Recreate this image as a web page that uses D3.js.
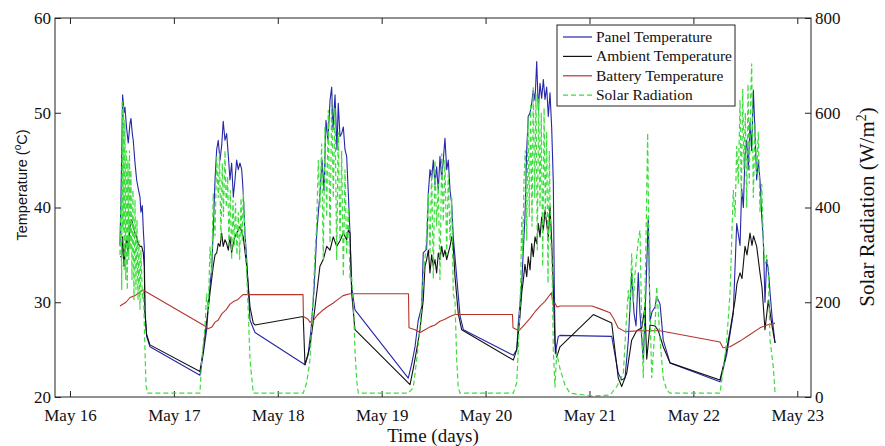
<!DOCTYPE html>
<html>
<head>
<meta charset="utf-8">
<script src="https://cdn.jsdelivr.net/npm/d3@7"></script>
<style>
  body { margin: 0; background: #fff; }
  text { font-family: "Liberation Serif", "Times New Roman", serif; fill: #111; }
</style>
</head>
<body>
<svg id="chart" width="885" height="446"></svg>
<script>
// [day of May, value] pairs
const panelTemp = [
  [16.481,36.0],[16.491,41.0],[16.507,51.9],[16.520,50.0],[16.529,50.6],[16.544,48.5],[16.561,46.8],
  [16.578,48.9],[16.587,49.4],[16.600,47.8],[16.609,47.1],[16.626,44.7],[16.642,42.9],[16.657,42.0],
  [16.674,41.1],[16.683,39.5],[16.696,40.2],[16.706,37.6],[16.715,35.9],[16.722,28.9],[16.738,26.4],
  [16.770,25.3],[17.251,22.3],[17.283,24.6],[17.316,27.1],[17.341,31.0],[17.364,33.5],[17.379,37.6],
  [17.396,42.9],[17.412,46.1],[17.427,47.1],[17.444,45.0],[17.460,46.5],[17.475,49.1],[17.492,47.1],
  [17.508,47.8],[17.524,45.5],[17.540,42.9],[17.556,44.7],[17.572,41.1],[17.588,42.9],[17.604,45.0],
  [17.620,44.0],[17.636,44.7],[17.653,44.0],[17.668,41.5],[17.684,37.3],[17.701,34.5],[17.733,28.1],
  [17.781,26.8],[18.262,23.4],[18.291,24.4],[18.320,27.1],[18.349,31.3],[18.377,37.6],[18.406,41.5],
  [18.426,45.0],[18.445,41.8],[18.464,49.2],[18.483,47.1],[18.503,51.3],[18.519,52.7],[18.531,48.2],
  [18.551,51.9],[18.570,46.1],[18.582,51.0],[18.599,47.5],[18.615,47.8],[18.631,48.5],[18.647,46.1],
  [18.663,45.4],[18.679,41.5],[18.695,37.3],[18.711,31.6],[18.743,29.2],[19.256,22.0],[19.289,23.5],
  [19.321,25.3],[19.352,28.1],[19.385,29.5],[19.400,35.2],[19.433,35.6],[19.449,41.5],[19.465,44.0],
  [19.481,43.0],[19.497,45.0],[19.513,42.4],[19.529,44.3],[19.545,41.8],[19.561,45.4],[19.578,43.0],
  [19.593,45.0],[19.609,47.3],[19.626,44.0],[19.641,45.0],[19.658,41.8],[19.674,40.4],[19.689,36.9],
  [19.722,32.7],[19.754,28.6],[19.786,27.1],[20.267,24.4],[20.300,25.0],[20.315,27.8],[20.348,32.0],
  [20.379,39.0],[20.396,46.1],[20.411,49.6],[20.428,50.0],[20.444,51.0],[20.459,52.4],[20.476,51.3],
  [20.492,55.4],[20.508,50.3],[20.524,53.1],[20.540,51.5],[20.556,53.5],[20.572,51.4],[20.588,52.7],
  [20.604,49.6],[20.620,52.1],[20.636,48.5],[20.652,42.6],[20.661,32.0],[20.671,24.6],[20.700,26.4],
  [20.716,26.5],[21.214,26.4],[21.277,22.5],[21.310,21.8],[21.342,22.0],[21.374,26.0],[21.406,33.1],
  [21.429,28.8],[21.448,27.5],[21.470,33.1],[21.486,28.8],[21.518,23.9],[21.544,31.5],[21.566,39.0],
  [21.583,28.0],[21.602,29.0],[21.631,29.5],[21.647,30.6],[21.679,29.8],[21.710,26.0],[21.775,23.6],
  [22.256,21.6],[22.321,24.5],[22.384,28.8],[22.417,38.3],[22.449,36.0],[22.465,42.0],[22.481,40.0],
  [22.497,45.5],[22.513,47.1],[22.529,44.0],[22.545,49.0],[22.561,46.0],[22.577,52.4],[22.593,48.0],
  [22.609,42.9],[22.625,45.0],[22.641,42.9],[22.658,39.0],[22.673,36.6],[22.689,30.0],[22.706,34.5],
  [22.721,33.5],[22.738,31.0],[22.757,28.5],[22.786,25.7]
];

const ambientTemp = [
  [16.481,34.8],[16.498,34.8],[16.507,36.9],[16.520,33.8],[16.529,35.5],[16.546,36.9],[16.561,35.2],
  [16.578,38.0],[16.594,38.7],[16.609,38.0],[16.626,37.3],[16.642,36.9],[16.657,36.2],[16.674,35.9],
  [16.690,35.9],[16.706,35.2],[16.715,33.8],[16.722,29.0],[16.738,26.6],[16.770,25.5],[17.251,22.7],
  [17.283,24.9],[17.316,28.0],[17.348,31.0],[17.379,33.8],[17.396,35.0],[17.412,35.2],[17.427,36.2],
  [17.444,35.9],[17.460,37.3],[17.475,35.9],[17.492,36.6],[17.508,36.2],[17.524,35.5],[17.540,36.9],
  [17.556,35.2],[17.572,36.2],[17.588,36.9],[17.604,37.3],[17.620,37.6],[17.636,38.0],[17.668,36.9],
  [17.701,33.8],[17.733,29.5],[17.764,27.8],[17.781,27.6],[18.245,28.5],[18.262,23.4],[18.310,25.3],
  [18.342,28.0],[18.374,30.9],[18.406,33.8],[18.438,34.5],[18.471,35.9],[18.503,35.5],[18.534,36.9],
  [18.567,35.9],[18.599,36.5],[18.631,37.3],[18.663,36.6],[18.679,37.6],[18.695,37.3],[18.711,31.0],
  [18.743,27.1],[19.273,21.3],[19.304,23.0],[19.337,25.0],[19.369,27.1],[19.385,28.8],[19.400,30.2],
  [19.417,33.8],[19.433,34.5],[19.449,35.5],[19.465,33.1],[19.481,35.0],[19.497,33.8],[19.513,34.5],
  [19.529,33.1],[19.545,35.2],[19.561,34.5],[19.578,35.9],[19.593,34.8],[19.609,35.5],[19.626,34.5],
  [19.641,35.2],[19.658,35.9],[19.674,36.9],[19.689,35.9],[19.706,32.7],[19.737,28.8],[19.770,27.1],
  [20.267,23.9],[20.300,25.0],[20.331,28.5],[20.348,31.0],[20.363,32.3],[20.379,34.0],[20.396,32.7],
  [20.411,34.8],[20.428,33.4],[20.444,36.2],[20.459,34.8],[20.476,36.9],[20.492,36.2],[20.508,38.3],
  [20.524,36.9],[20.540,39.0],[20.556,37.6],[20.572,39.7],[20.588,38.3],[20.604,36.9],[20.620,40.1],
  [20.636,36.6],[20.652,31.3],[20.668,25.7],[20.684,24.2],[20.716,25.3],[21.037,28.7],[21.214,27.8],
  [21.277,22.0],[21.310,21.1],[21.358,22.5],[21.406,26.0],[21.454,27.0],[21.503,27.3],[21.534,29.5],
  [21.551,24.0],[21.583,27.6],[21.631,27.5],[21.662,27.0],[21.710,25.3],[21.775,23.6],[22.256,21.8],
  [22.304,24.0],[22.353,27.0],[22.401,30.2],[22.420,32.0],[22.449,33.1],[22.468,32.5],[22.497,35.9],
  [22.516,35.0],[22.545,37.3],[22.564,36.0],[22.579,37.0],[22.609,35.9],[22.641,33.1],[22.661,31.5],
  [22.689,27.1],[22.721,30.2],[22.757,27.5],[22.786,25.7]
];

const batteryTemp = [
  [16.481,29.6],[16.539,30.0],[16.578,30.5],[16.626,30.7],[16.664,31.0],[16.703,31.3],[17.299,27.5],
  [17.328,27.2],[17.367,27.4],[17.396,27.9],[17.425,28.1],[17.463,28.8],[17.502,29.2],[17.540,29.8],
  [17.579,30.1],[17.617,30.3],[17.665,30.8],[18.243,30.8],[18.247,28.5],[18.291,28.2],[18.310,27.9],
  [18.339,28.0],[18.377,28.6],[18.426,29.1],[18.474,29.5],[18.531,29.9],[18.580,30.3],[18.628,30.7],
  [18.695,30.9],[19.258,30.9],[19.263,27.3],[19.321,27.1],[19.369,26.8],[19.417,27.1],[19.465,27.4],
  [19.513,27.6],[19.561,28.0],[19.609,28.2],[19.658,28.5],[19.706,28.7],[20.259,28.7],[20.264,27.3],
  [20.322,27.0],[20.379,27.7],[20.428,28.3],[20.476,29.0],[20.524,29.6],[20.572,30.1],[20.634,31.0],
  [20.649,29.7],[20.668,29.9],[20.687,29.5],[20.716,29.6],[21.024,29.6],[21.101,29.3],[21.198,28.9],
  [21.236,28.2],[21.275,27.3],[21.342,26.9],[21.486,27.0],[21.679,27.0],[21.871,26.6],[22.064,26.2],
  [22.256,25.8],[22.285,25.2],[22.353,25.3],[22.449,25.9],[22.545,26.6],[22.641,27.3],[22.709,27.6],
  [22.786,27.8]
];

const solarRad = [
  [16.481,300],[16.491,416],[16.498,226],[16.503,627],[16.510,353],[16.515,616],[16.522,268],
  [16.529,585],[16.537,247],[16.544,521],[16.552,226],[16.558,500],[16.566,289],[16.573,521],
  [16.580,310],[16.587,479],[16.597,247],[16.606,437],[16.616,205],[16.626,416],[16.635,226],
  [16.645,374],[16.655,205],[16.664,331],[16.674,184],[16.683,310],[16.698,205],[16.707,226],
  [16.722,99],[16.732,25],[16.746,8],[17.251,8],
  [17.268,78],[17.299,148],[17.316,219],[17.331,180],[17.348,317],[17.364,260],[17.379,430],
  [17.396,340],[17.412,507],[17.427,420],[17.439,515],[17.453,330],[17.466,494],[17.477,380],
  [17.492,520],[17.504,400],[17.518,465],[17.530,320],[17.543,437],[17.556,290],[17.569,416],
  [17.581,320],[17.593,410],[17.607,300],[17.620,390],[17.633,290],[17.646,420],[17.658,330],
  [17.668,437],[17.684,346],[17.701,262],[17.716,180],[17.733,78],[17.764,8],[18.245,8],
  [18.278,30],[18.310,78],[18.342,219],[18.358,300],[18.374,360],[18.390,500],[18.406,400],
  [18.422,535],[18.438,289],[18.454,570],[18.471,380],[18.486,606],[18.503,325],[18.519,634],
  [18.534,420],[18.551,610],[18.567,289],[18.582,560],[18.599,330],[18.615,520],[18.631,254],
  [18.647,480],[18.663,300],[18.679,400],[18.695,250],[18.711,254],[18.727,200],[18.743,99],
  [18.759,36],[18.775,8],[19.256,8],
  [19.304,20],[19.337,78],[19.369,148],[19.400,254],[19.417,290],[19.433,346],[19.449,430],
  [19.465,300],[19.481,479],[19.497,250],[19.513,500],[19.529,360],[19.545,450],[19.561,247],
  [19.578,514],[19.593,370],[19.609,500],[19.626,300],[19.641,470],[19.658,330],[19.674,420],
  [19.689,219],[19.706,200],[19.722,78],[19.737,20],[19.754,8],[20.267,8],
  [20.300,30],[20.315,99],[20.338,240],[20.348,381],[20.357,300],[20.370,460],[20.382,521],
  [20.396,330],[20.408,592],[20.421,380],[20.434,620],[20.447,360],[20.459,655],[20.473,420],
  [20.485,640],[20.498,310],[20.511,630],[20.524,400],[20.536,600],[20.550,275],[20.563,610],
  [20.575,380],[20.588,560],[20.601,240],[20.613,520],[20.627,330],[20.639,290],[20.652,99],
  [20.668,20],[20.684,93],[20.716,60],[20.764,25],[20.813,8],[21.034,2],[21.198,4],[21.262,22],
  [21.326,50],[21.352,150],[21.374,226],[21.390,180],[21.406,303],[21.422,200],[21.438,260],
  [21.470,331],[21.486,352],[21.503,150],[21.518,40],[21.544,331],[21.560,557],[21.576,240],
  [21.599,40],[21.631,150],[21.647,233],[21.679,120],[21.710,40],[21.743,15],[21.775,8],[22.256,8],
  [22.288,60],[22.321,120],[22.353,219],[22.384,437],[22.401,380],[22.417,530],[22.432,450],
  [22.449,627],[22.461,420],[22.475,650],[22.487,480],[22.500,600],[22.513,400],[22.526,660],
  [22.538,450],[22.552,640],[22.561,704],[22.577,420],[22.593,580],[22.609,470],[22.625,560],
  [22.641,390],[22.658,450],[22.673,330],[22.689,280],[22.706,300],[22.721,261],[22.738,120],
  [22.769,64],[22.786,8]
];

const tempTicks = [20, 30, 40, 50, 60];
const solarTicks = [0, 200, 400, 600, 800];
const dayDomain = [15.856, 23.132];
const legendLabels = ["Panel Temperature", "Ambient Temperature", "Battery Temperature", "Solar Radiation"];
const legendColors = ["#2626a8", "#111111", "#b5352b", "#3ddc3d"];

const dayToDate = d => new Date(Date.UTC(2013, 4, 1) + (d - 1) * 864e5);

const svg = d3.select("#chart");
const margin = { top: 18, right: 74, bottom: 49, left: 55 };
const width = 885 - margin.left - margin.right;
const height = 446 - margin.top - margin.bottom;

const g = svg.append("g").attr("transform", `translate(${margin.left},${margin.top})`);

const x = d3.scaleUtc().domain(dayDomain.map(dayToDate)).range([0, width]);
const yT = d3.scaleLinear().domain([20, 60]).range([height, 0]);
const yS = d3.scaleLinear().domain([0, 800]).range([height, 0]);

svg.append("defs").append("clipPath").attr("id", "plot-clip")
  .append("rect").attr("width", width).attr("height", height);

// axes, ticks point inward
const dayTicks = x.ticks(d3.utcDay.every(1));
const fmt = d3.utcFormat("%b %-d");

const styleAxis = sel => {
  sel.select(".domain").remove();
  sel.selectAll("line").attr("stroke", "#222");
  sel.selectAll("text").attr("font-size", 17).attr("fill", "#111")
    .attr("font-family", '"Liberation Serif", "Times New Roman", serif');
};

g.append("g").attr("transform", `translate(0,${height})`)
  .call(d3.axisBottom(x).tickValues(dayTicks).tickFormat(fmt).tickSizeInner(-6).tickSizeOuter(0).tickPadding(12))
  .call(styleAxis);
g.append("g")
  .call(d3.axisTop(x).tickValues(dayTicks).tickFormat("").tickSizeInner(-6).tickSizeOuter(0))
  .call(styleAxis);
g.append("g")
  .call(d3.axisLeft(yT).tickValues(tempTicks).tickSizeInner(-6).tickSizeOuter(0).tickPadding(4))
  .call(styleAxis);
g.append("g").attr("transform", `translate(${width},0)`)
  .call(d3.axisRight(yS).tickValues(solarTicks).tickSizeInner(-6).tickSizeOuter(0).tickPadding(4))
  .call(styleAxis);

// series
const plot = g.append("g").attr("clip-path", "url(#plot-clip)");
const lineT = d3.line().x(d => x(dayToDate(d[0]))).y(d => yT(d[1]));
const lineS = d3.line().x(d => x(dayToDate(d[0]))).y(d => yS(d[1]));

[panelTemp, ambientTemp, batteryTemp].forEach((series, i) => {
  plot.append("path").datum(series)
    .attr("fill", "none")
    .attr("stroke", legendColors[i])
    .attr("stroke-width", 1.1)
    .attr("stroke-linejoin", "round")
    .attr("d", lineT);
});
plot.append("path").datum(solarRad)
  .attr("fill", "none")
  .attr("stroke", legendColors[3])
  .attr("stroke-width", 1.2)
  .attr("stroke-dasharray", "5,3")
  .attr("d", lineS);

// frame
g.append("rect").attr("width", width).attr("height", height)
  .attr("fill", "none").attr("stroke", "#222").attr("stroke-width", 1);

// axis titles
svg.append("text")
  .attr("x", margin.left + width / 2).attr("y", 442)
  .attr("text-anchor", "middle").attr("font-size", 19)
  .text("Time (days)");

const leftTitle = svg.append("text")
  .attr("transform", "translate(27,185) rotate(-90)")
  .attr("text-anchor", "middle")
  .attr("font-size", 14.5)
  .style("font-family", '"Liberation Sans", Arial, sans-serif');
leftTitle.append("tspan").text("Temperature (");
leftTitle.append("tspan").attr("font-size", 10).attr("dy", -6).text("o");
leftTitle.append("tspan").attr("dy", 6).text("C)");

const rightTitle = svg.append("text")
  .attr("transform", "translate(874,207) rotate(-90)")
  .attr("text-anchor", "middle")
  .attr("font-size", 21);
rightTitle.append("tspan").text("Solar Radiation (W/m");
rightTitle.append("tspan").attr("font-size", 14).attr("dy", -8).text("2");
rightTitle.append("tspan").attr("dy", 8).text(")");

// legend
const legend = svg.append("g").attr("transform", "translate(557,25)");
legend.append("rect").attr("width", 178).attr("height", 81)
  .attr("fill", "#fff").attr("stroke", "#222");
legendLabels.forEach((label, i) => {
  const row = legend.append("g").attr("transform", `translate(0,${12 + i * 19.4})`);
  row.append("line").attr("x1", 6).attr("x2", 35)
    .attr("stroke", legendColors[i]).attr("stroke-width", 1.2)
    .attr("stroke-dasharray", i === 3 ? "5,3" : null);
  row.append("text").attr("x", 39).attr("y", 5).attr("font-size", 15.5).text(label);
});
</script>
</body>
</html>
